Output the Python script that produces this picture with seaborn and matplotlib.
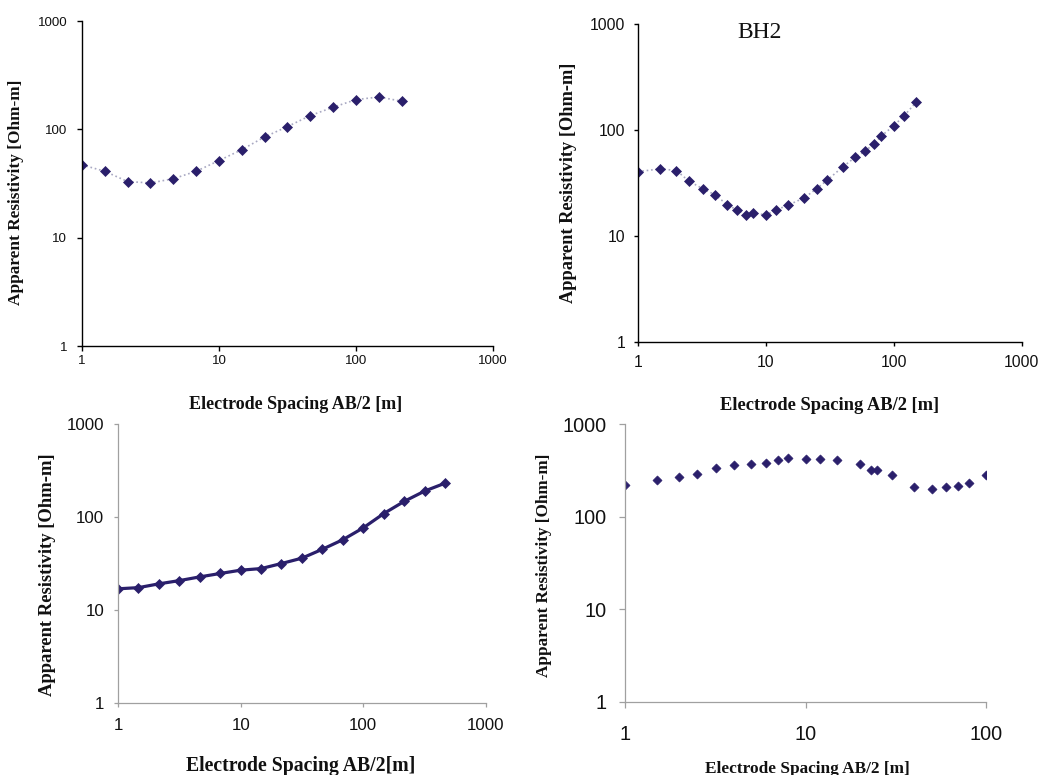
import matplotlib
matplotlib.use("Agg")
import matplotlib.pyplot as plt
from matplotlib import font_manager as fm
from matplotlib.ticker import FixedLocator, FixedFormatter, NullLocator
import seaborn as sns
import pandas as pd

# ---------------- data ----------------
tl_x = [1, 1.47, 2.15, 3.16, 4.64, 6.81, 10, 14.7, 21.5, 31.6, 46.4, 68.1, 100, 147, 215]
tl_y = [47, 41, 33, 32, 35, 41, 51.5, 65, 85, 106, 134, 160, 188, 199, 182]

tr_x = [1, 1.5, 2, 2.5, 3.2, 4, 5, 6, 7, 8, 10, 12, 15, 20, 25, 30, 40, 50, 60, 70, 80, 100, 120, 150]
tr_y = [40.5, 43, 41.5, 33, 28, 24.5, 19.7, 17.5, 15.8, 16.5, 15.8, 17.6, 19.6, 23, 28, 33.5,
        45, 55.5, 63.5, 74.5, 88, 110, 136, 184]

bl_x = [1, 1.47, 2.15, 3.16, 4.64, 6.81, 10, 14.7, 21.5, 31.6, 46.4, 68.1, 100, 147, 215, 316, 464]
bl_y = [16.9, 17.4, 19.1, 20.7, 22.7, 24.7, 26.8, 27.9, 31.6, 36.1, 45, 57, 76.5, 109, 147, 190, 231]

br_x = [1, 1.5, 2, 2.5, 3.2, 4, 5, 6, 7, 8, 10, 12, 15, 20, 23, 25, 30, 40, 50, 60, 70, 80, 100]
br_y = [221, 251, 268, 291, 332, 358, 370, 383, 412, 426, 423, 423, 412, 367, 319, 321, 279,
        207, 199, 207, 214, 233, 279]

x_ticks_1000 = [1, 10, 100, 1000]
x_ticks_100 = [1, 10, 100]
y_ticks = [1, 10, 100, 1000]
tick_labels_1000 = ["1", "10", "100", "1000"]
tick_labels_100 = ["1", "10", "100"]

x_label = "Electrode Spacing AB/2 [m]"
x_label_bl = "Electrode Spacing AB/2[m]"
y_label = "Apparent Resistivity [Ohm-m]"
title_tr = "BH2"

# ---------------- style ----------------
sns.set_theme(style="ticks")
names = {f.name for f in fm.fontManager.ttflist}
narrow = "Liberation Sans Narrow" in names
tick_family = ["Liberation Sans Narrow", "Liberation Sans", "DejaVu Sans"] if narrow else ["Liberation Sans", "DejaVu Sans"]
plt.rcParams["font.family"] = tick_family
serif = ["Liberation Serif", "DejaVu Serif"]

navy = "#2a1f6b"
dotc = "#a8a8c2"

fig = plt.figure(figsize=(10.44, 7.75), dpi=100)
ax_tl = fig.add_axes([0.0785, 0.5535, 0.3937, 0.4194])
ax_tr = fig.add_axes([0.611, 0.5587, 0.3678, 0.4103])
ax_bl = fig.add_axes([0.113, 0.0929, 0.3525, 0.36])
ax_br = fig.add_axes([0.5987, 0.0942, 0.3458, 0.3587])

df_tl = pd.DataFrame({"x": tl_x, "y": tl_y})
df_tr = pd.DataFrame({"x": tr_x, "y": tr_y})
df_bl = pd.DataFrame({"x": bl_x, "y": bl_y})
df_br = pd.DataFrame({"x": br_x, "y": br_y})

sns.lineplot(data=df_tl, x="x", y="y", ax=ax_tl, color=dotc, linestyle=":", linewidth=1.2,
             marker="D", markersize=4.8, markerfacecolor=navy, markeredgecolor=navy,
             markeredgewidth=0.5, sort=False)
sns.lineplot(data=df_tr, x="x", y="y", ax=ax_tr, color=dotc, linestyle=":", linewidth=1.2,
             marker="D", markersize=5.0, markerfacecolor=navy, markeredgecolor=navy,
             markeredgewidth=0.5, sort=False)
sns.lineplot(data=df_bl, x="x", y="y", ax=ax_bl, color=navy, linestyle="-", linewidth=2.3,
             marker="D", markersize=5.0, markerfacecolor=navy, markeredgecolor=navy,
             markeredgewidth=0.5, sort=False)
sns.scatterplot(data=df_br, x="x", y="y", ax=ax_br, color=navy, marker="D", s=22,
                edgecolor=navy, linewidth=0.4)


def setup(ax, xmax, xticks, xlabels, spine_color, spine_w, tsize, tick_len, xpad, ypad,
          xl, xl_size, xl_pos, yl_size, yl_pos):
    ax.set_xscale("log")
    ax.set_yscale("log")
    ax.set_xlim(1, xmax)
    ax.set_ylim(1, 1000)
    ax.xaxis.set_major_locator(FixedLocator(xticks))
    ax.xaxis.set_major_formatter(FixedFormatter(xlabels))
    ax.yaxis.set_major_locator(FixedLocator(y_ticks))
    ax.yaxis.set_major_formatter(FixedFormatter(tick_labels_1000))
    ax.xaxis.set_minor_locator(NullLocator())
    ax.yaxis.set_minor_locator(NullLocator())
    for s in ["top", "right"]:
        ax.spines[s].set_visible(False)
    for s in ["left", "bottom"]:
        ax.spines[s].set_color(spine_color)
        ax.spines[s].set_linewidth(spine_w)
    ax.tick_params(axis="both", which="major", direction="out", length=tick_len,
                   width=spine_w, color=spine_color, labelsize=tsize, labelcolor="#111111")
    ax.tick_params(axis="x", pad=xpad)
    ax.tick_params(axis="y", pad=ypad)
    ax.set_facecolor("white")
    ax.set_xlabel(xl, family=serif, fontweight="bold", fontsize=xl_size, color="#111111")
    ax.set_ylabel(y_label, family=serif, fontweight="bold", fontsize=yl_size, color="#111111")
    ax.xaxis.set_label_coords(*xl_pos)
    ax.yaxis.set_label_coords(*yl_pos)


if narrow:
    ts = [11, 13.5, 14.5, 16.5]
else:
    ts = [9.6, 11.3, 12.2, 14.3]

setup(ax_tl, 1000, x_ticks_1000, tick_labels_1000, "black", 1.0, ts[0], 3.6, 2.5, 7,
      x_label, 13, (0.521, -0.155), 12.4, (-0.141, 0.472))
setup(ax_tr, 1000, x_ticks_1000, tick_labels_1000, "black", 1.0, ts[1], 3.0, 6, 6,
      x_label, 13.3, (0.5, -0.172), 13.2, (-0.159, 0.5))
setup(ax_bl, 1000, x_ticks_1000, tick_labels_1000, "#a0a0a0", 0.9, ts[2], 3.0, 8, 7,
      x_label_bl, 14.2, (0.497, -0.19), 13.4, (-0.168, 0.459))
setup(ax_br, 100, x_ticks_100, tick_labels_100, "#a0a0a0", 0.9, ts[3], 4.3, 12, 9,
      x_label, 12.4, (0.504, -0.212), 12.3, (-0.202, 0.493))

ax_tr.text(0.318, 0.972, title_tr, transform=ax_tr.transAxes, ha="center", va="center",
           family=serif, fontsize=17, color="#111111")

fig.savefig("out.png", dpi=100, facecolor="white")
